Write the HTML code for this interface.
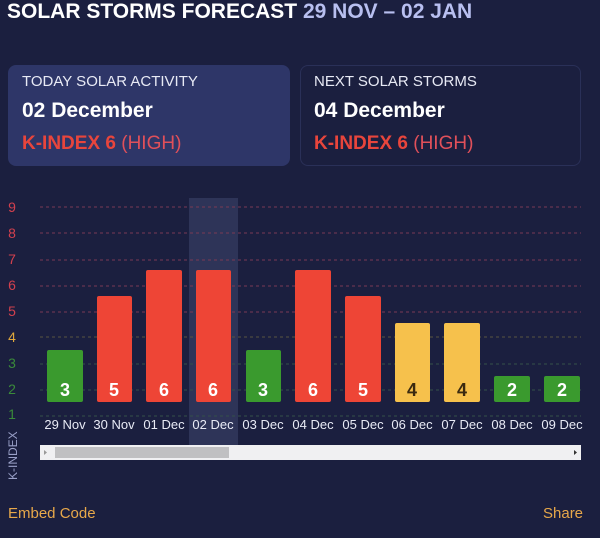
<!DOCTYPE html>
<html><head><style>
body{margin:0;width:600px;height:538px;background:#1b1f3f;font-family:"Liberation Sans",sans-serif;overflow:hidden;position:relative}
.a{position:absolute;white-space:nowrap}
</style></head><body>
<div class="a" style="left:7px;top:0px;font-size:21px;font-weight:bold;color:#fff;line-height:24px">SOLAR STORMS FORECAST <span style="color:#b8bff0">29 NOV – 02 JAN</span></div>
<div class="a" style="left:8px;top:65px;width:282px;height:101px;background:#2e3668;border-radius:8px"></div>
<div class="a" style="left:300px;top:65px;width:281px;height:101px;box-sizing:border-box;border:1px solid #2a3058;border-radius:8px"></div>
<div class="a" style="left:22px;top:73px;font-size:15px;color:#e8eaf5">TODAY SOLAR ACTIVITY</div>
<div class="a" style="left:22px;top:99px;font-size:21px;font-weight:bold;color:#fff">02 December</div>
<div class="a" style="left:22px;top:133px;font-size:19px;color:#e8453c"><b>K-INDEX 6</b> <span style="color:#e0505a">(HIGH)</span></div>
<div class="a" style="left:314px;top:73px;font-size:15px;color:#e8eaf5">NEXT SOLAR STORMS</div>
<div class="a" style="left:314px;top:99px;font-size:21px;font-weight:bold;color:#fff">04 December</div>
<div class="a" style="left:314px;top:133px;font-size:19px;color:#e8453c"><b>K-INDEX 6</b> <span style="color:#e0505a">(HIGH)</span></div>
<svg class="a" style="left:0;top:0" width="600" height="538" font-family="Liberation Sans,sans-serif">
<rect x="189" y="198" width="49" height="247" fill="#2e3458"/>
<g stroke="#7a3a55" stroke-dasharray="3,3" stroke-width="1">
<line x1="40" x2="581" y1="207" y2="207"/><line x1="40" x2="581" y1="233" y2="233"/><line x1="40" x2="581" y1="260" y2="260"/><line x1="40" x2="581" y1="286" y2="286"/><line x1="40" x2="581" y1="312" y2="312"/></g>
<g stroke="#5a5540" stroke-dasharray="3,3"><line x1="40" x2="581" y1="337" y2="337"/></g>
<g stroke="#34504a" stroke-dasharray="3,3"><line x1="40" x2="581" y1="364" y2="364"/><line x1="40" x2="581" y1="390" y2="390"/><line x1="40" x2="581" y1="416" y2="416"/></g>
<g font-size="14" text-anchor="middle">
<text x="12" y="212" fill="#d2404e">9</text><text x="12" y="238" fill="#d2404e">8</text><text x="12" y="264" fill="#d2404e">7</text><text x="12" y="290" fill="#d2404e">6</text><text x="12" y="316" fill="#d2404e">5</text><text x="12" y="342" fill="#e0a83c">4</text><text x="12" y="368" fill="#3a8a3a">3</text><text x="12" y="394" fill="#3a8a3a">2</text><text x="12" y="419" fill="#3a8a3a">1</text>
</g>
<text transform="translate(17,480) rotate(-90)" font-size="12" fill="#9aa0c8">K-INDEX</text>
<g>
<rect x="47" y="350" width="36" height="52" rx="2" fill="#3a9a2e"/>
<rect x="97" y="296" width="35" height="106" rx="2" fill="#ee4536"/>
<rect x="146" y="270" width="36" height="132" rx="2" fill="#ee4536"/>
<rect x="196" y="270" width="35" height="132" rx="2" fill="#ee4536"/>
<rect x="246" y="350" width="35" height="52" rx="2" fill="#3a9a2e"/>
<rect x="295" y="270" width="36" height="132" rx="2" fill="#ee4536"/>
<rect x="345" y="296" width="36" height="106" rx="2" fill="#ee4536"/>
<rect x="395" y="323" width="35" height="79" rx="2" fill="#f6c14c"/>
<rect x="444" y="323" width="36" height="79" rx="2" fill="#f6c14c"/>
<rect x="494" y="376" width="36" height="26" rx="2" fill="#3a9a2e"/>
<rect x="544" y="376" width="36" height="26" rx="2" fill="#3a9a2e"/>
</g>
<g font-size="18" font-weight="bold" text-anchor="middle" fill="#fff">
<text x="65" y="396">3</text><text x="114" y="396">5</text><text x="164" y="396">6</text><text x="213" y="396">6</text><text x="263" y="396">3</text><text x="313" y="396">6</text><text x="363" y="396">5</text><text x="412" y="396" fill="#3a2a10">4</text><text x="462" y="396" fill="#3a2a10">4</text><text x="512" y="396">2</text><text x="562" y="396">2</text>
</g>
<g font-size="13" text-anchor="middle" fill="#e8eaf5">
<text x="65" y="429">29 Nov</text><text x="114" y="429">30 Nov</text><text x="164" y="429">01 Dec</text><text x="213" y="429">02 Dec</text><text x="263" y="429">03 Dec</text><text x="313" y="429">04 Dec</text><text x="363" y="429">05 Dec</text><text x="412" y="429">06 Dec</text><text x="462" y="429">07 Dec</text><text x="512" y="429">08 Dec</text><text x="562" y="429">09 Dec</text>
</g>
<rect x="40" y="445" width="541" height="15" fill="#f0f0f2"/>
<rect x="55" y="447" width="174" height="11" fill="#c0c0c2"/>
<path d="M47 452.5 L44 450 L44 455Z" fill="#999"/>
<path d="M574 450 L577 452.5 L574 455Z" fill="#333"/>
</svg>
<div class="a" style="left:8px;top:505px;font-size:15px;color:#e8a84a">Embed Code</div>
<div class="a" style="left:543px;top:505px;font-size:15px;color:#e8a84a">Share</div>
</body></html>
